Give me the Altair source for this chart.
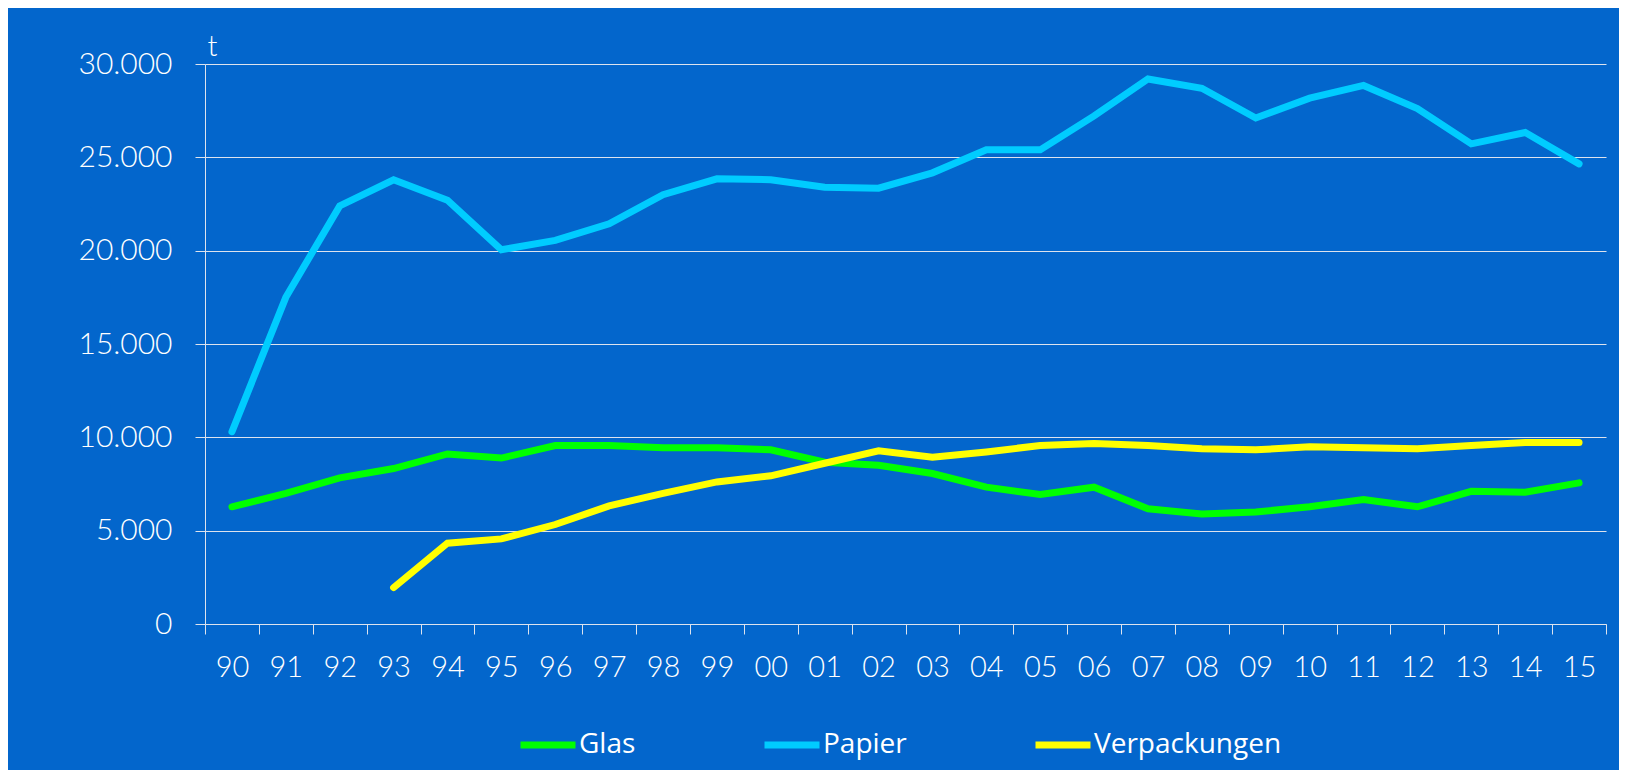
import altair as alt
import pandas as pd

years = ["90", "91", "92", "93", "94", "95", "96", "97", "98", "99", "00", "01", "02",
         "03", "04", "05", "06", "07", "08", "09", "10", "11", "12", "13", "14", "15"]

glas = [6280, 7000, 7830, 8330, 9110, 8890, 9560, 9560, 9440, 9440, 9330, 8670, 8500,
        8060, 7330, 6940, 7330, 6170, 5890, 6000, 6280, 6670, 6280, 7110, 7060, 7560]

papier = [10300, 17500, 22400, 23800, 22700, 20050, 20550, 21440, 23000, 23850, 23800,
          23400, 23350, 24170, 25400, 25400, 27220, 29200, 28700, 27110, 28170, 28850,
          27610, 25720, 26330, 24650]

verpackungen = [None, None, None, 1950, 4330, 4560, 5330, 6330, 7000, 7610, 7940, 8610,
                9280, 8940, 9220, 9560, 9670, 9560, 9390, 9330, 9500, 9440, 9390, 9560,
                9720, 9720]

series_names = ["Glas", "Papier", "Verpackungen"]
series_colors = ["#00FF00", "#00CCFF", "#FFFF00"]

rows = []
for name, vals in zip(series_names, [glas, papier, verpackungen]):
    for y, v in zip(years, vals):
        if v is not None:
            rows.append({"Jahr": y, "Wert": v, "Serie": name})
df = pd.DataFrame(rows)

AX_FONT = "Lato, Open Sans, sans-serif"
LEG_FONT = "Open Sans, sans-serif"
GRID = "#DDE3EE"

chart = alt.Chart(df).mark_line(strokeWidth=7, strokeCap="round", strokeJoin="miter").encode(
    x=alt.X("Jahr:N", sort=years,
            scale=alt.Scale(paddingInner=0, paddingOuter=0),
            axis=alt.Axis(title=None, labelAngle=0, tickBand="extent", grid=False,
                          domainColor=GRID, tickColor=GRID, tickSize=10,
                          labelColor="white", labelFont=AX_FONT, labelFontSize=29,
                          labelFontWeight=300,
                          labelPadding=19, domainWidth=1.2)),
    y=alt.Y("Wert:Q",
            scale=alt.Scale(domain=[0, 30000]),
            axis=alt.Axis(values=[0, 5000, 10000, 15000, 20000, 25000, 30000],
                          format=",d", labelExpr="replace(datum.label, ',', '.')",
                          title="t", titleAngle=0, titleAlign="left", titleBaseline="alphabetic",
                          titleX=2, titleY=-9, titleColor="white", titleFont=AX_FONT,
                          titleFontSize=29, titleFontWeight=300,
                          labelColor="white", labelFont=AX_FONT, labelFontSize=30,
                          labelFontWeight=300,
                          labelPadding=23, tickSize=10, tickColor=GRID,
                          domainColor=GRID, gridColor=GRID, gridWidth=1.2)),
    color=alt.Color("Serie:N",
                    scale=alt.Scale(domain=series_names, range=series_colors),
                    legend=alt.Legend(title=None, orient="none", direction="horizontal",
                                      legendX=312, legendY=650,
                                      symbolType="stroke", symbolStrokeWidth=7,
                                      symbolSize=3025, labelOffset=0,
                                      columnPadding=114, labelLimit=0,
                                      labelColor="white", labelFont=LEG_FONT,
                                      labelFontSize=28)),
).properties(
    width=1401, height=560,
    background="#0366CC",
    padding={"left": 197, "top": 56, "right": 13, "bottom": 146},
    autosize=alt.AutoSizeParams(type="none"),
).configure_view(stroke=None)

chart.save("out.html", embed_options={"renderer": "svg", "actions": False})
